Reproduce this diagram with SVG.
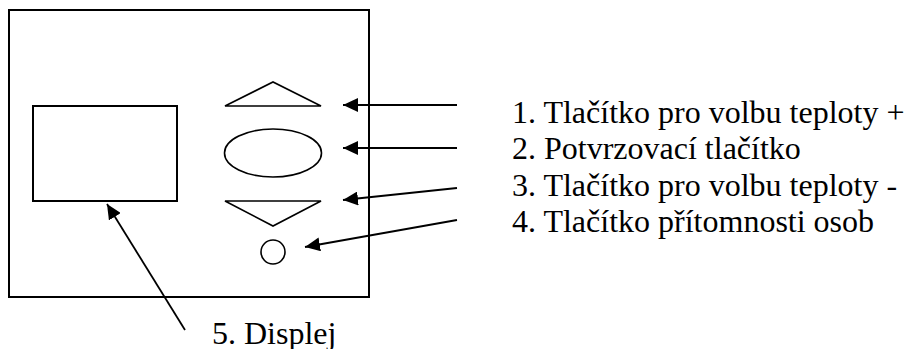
<svg xmlns="http://www.w3.org/2000/svg" width="909" height="349" viewBox="0 0 909 349">
<style>
.s{fill:none;stroke:#000;stroke-width:2}
.t{fill:none;stroke:#000;stroke-width:1.6}
.c{fill:none;stroke:#000;stroke-width:1.8}
.l{font-family:'Liberation Serif','Times New Roman','DejaVu Serif',serif;font-size:32px;fill:#000}
</style>
<defs>
<marker id="ah" markerUnits="userSpaceOnUse" markerWidth="16" markerHeight="14" refX="15" refY="7" orient="auto">
<path d="M0,0 L15,7 L0,14 Z" fill="#000"/>
</marker>
</defs>
<rect width="909" height="349" fill="#fff"/>
<g id="device"><rect x="9" y="10" width="360" height="287" class="s"/></g>
<g id="display"><rect x="33" y="106" width="144" height="95" class="s"/></g>
<g id="btn-up"><path d="M225,106 L273,82 L321,106 Z" class="t"/></g>
<g id="btn-ok"><ellipse cx="273" cy="153" rx="48.5" ry="24" class="t"/></g>
<g id="btn-down"><path d="M225,201 L321,201 L273,226 Z" class="t"/></g>
<g id="btn-presence"><circle cx="273" cy="252" r="12" class="t"/></g>
<g id="connectors">
<line x1="457" y1="105" x2="343" y2="105" class="c" marker-end="url(#ah)"/>
<line x1="457" y1="148" x2="343" y2="148" class="c" marker-end="url(#ah)"/>
<line x1="457" y1="188" x2="343" y2="200" class="c" marker-end="url(#ah)"/>
<line x1="457" y1="220" x2="305" y2="247" class="c" marker-end="url(#ah)"/>
<line x1="185" y1="330" x2="107" y2="204" class="c" marker-end="url(#ah)"/>
</g>
<g id="labels" font-family="'Liberation Serif', 'Times New Roman', serif" font-size="32" fill="#000">
<text class="l" x="512" y="123">1. Tlačítko pro volbu teploty +</text>
<text class="l" x="512" y="159">2. Potvrzovací tlačítko</text>
<text class="l" x="512" y="196">3. Tlačítko pro volbu teploty -</text>
<text class="l" x="512" y="232">4. Tlačítko přítomnosti osob</text>
<text class="l" x="212" y="344">5. Displej</text>
</g>
</svg>
